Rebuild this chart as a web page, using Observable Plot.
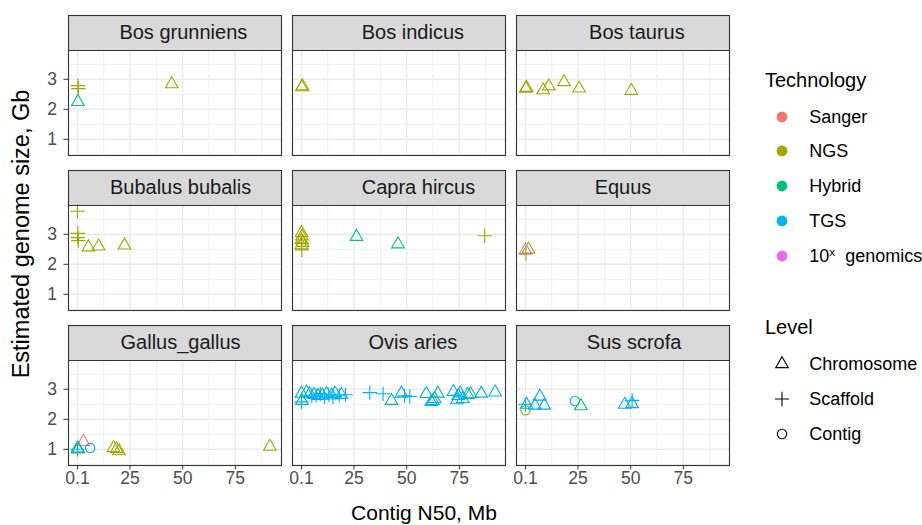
<!DOCTYPE html>
<html><head><meta charset="utf-8">
<script src="https://cdn.jsdelivr.net/npm/d3@7"></script>
<script src="https://cdn.jsdelivr.net/npm/@observablehq/plot@0.6"></script>
<style>
body{margin:0;background:#fff;font-family:"Liberation Sans",Arial,sans-serif;}
#wrap{position:relative;width:922px;height:525px;overflow:hidden;background:#fff;}
#wrap svg.plot{position:absolute;left:0;top:0;}
.abs{position:absolute;white-space:nowrap;line-height:1;color:#000;}
.ttl{font-size:20px;}
.lab{font-size:18px;}
sup{font-size:0.65em;vertical-align:0.5em;line-height:0;}
</style></head><body><div id="wrap"></div>
<script>
// ---------- data ----------
const species = ["\u00a0\u00a0\u00a0Bos grunniens", "\u00a0\u00a0\u00a0\u00a0\u00a0Bos indicus", "\u00a0\u00a0\u00a0\u00a0\u00a0Bos taurus",
  "\u00a0\u00a0Bubalus bubalis", "\u00a0\u00a0\u00a0\u00a0\u00a0\u00a0\u00a0Capra hircus", "Equus",
  "\u00a0\u00a0Gallus_gallus", "\u00a0\u00a0\u00a0\u00a0\u00a0Ovis aries", "\u00a0\u00a0\u00a0\u00a0Sus scrofa"];
const panelCounts = [4, 2, 7, 7, 10, 3, 10, 40, 11];
const technologies = ["Sanger", "NGS", "Hybrid", "TGS", "10x genomics"];
const techCodes = ["S", "N", "H", "T", "X"];
const techColors = ["#F8766D", "#A3A500", "#00BF7D", "#00B0F6", "#E76BF3"];
const levels = ["Chromosome", "Scaffold", "Contig"];
const levelCodes = ["C", "F", "O"];
const levelSymbols = ["triangle", "plus", "circle"];
const xTicks = [0.1, 25, 50, 75];
const yTicks = [1, 2, 3];
const xMinor = [12.55, 37.55, 62.55, 87.55];
const yMinor = [0.5, 1.5, 2.5, 3.5];

// Contig N50 (Mb), per point, panel by panel
const n50 = [
  0.3, 0.5, 0.3, 44.8,
  0.2, 0.6,
  0.2, 0.6, 8.5, 11.2, 18.4, 25.5, 50.3,
  0.1, 0.3, 0.2, 0.5, 5.3, 10.1, 22.4,
  0.1, 0.3, 0.2, 0.5, 0.1, 0.1, 0.3, 26.2, 45.9, 87.0,
  0.1, 1.5, 0.3,
  2.9, 6.1, 0.1, 0.5, 0.3, 0.1, 17.2, 18.7, 19.8, 91.4,
  0.1, 0.3, 0.1, 2.5, 4, 5, 6, 7, 8, 9, 10, 11, 12, 13, 14.5, 15, 16, 18, 19, 21,
  32.5, 38.8, 42.8, 47.5, 49, 51.5, 59.3, 61.7, 63.3, 62.5, 64.8,
  72.2, 73.8, 75.4, 76.6, 74.5, 79, 80.3, 85.4, 92,
  0.1, 0.1, 0.6, 4.6, 9.0, 6.9, 23.5, 26.4, 47.2, 50.7, 50.7
];
// Estimated genome size (Gb)
const genome = [
  2.79, 2.69, 2.25, 2.84,
  2.74, 2.77,
  2.69, 2.72, 2.64, 2.77, 2.91, 2.70, 2.62,
  3.77, 3.03, 2.89, 2.79, 2.57, 2.60, 2.63,
  3.05, 2.93, 2.81, 2.72, 2.64, 2.72, 2.48, 2.92, 2.67, 2.95,
  2.46, 2.50, 2.36,
  1.25, 1.04, 1.00, 1.00, 1.02, 1.03, 1.05, 1.01, 0.94, 1.09,
  2.86, 2.62, 2.58, 2.90, 2.85, 2.78, 2.82, 2.80, 2.78, 2.85, 2.80, 2.75, 2.84, 2.82, 2.80, 2.75, 2.86, 2.80, 2.82, 2.82,
  2.89, 2.85, 2.62, 2.86, 2.78, 2.76, 2.85, 2.58, 2.68, 2.62, 2.86,
  2.92, 2.64, 2.87, 2.68, 2.78, 2.82, 2.84, 2.86, 2.90,
  2.30, 2.50, 2.49, 2.46, 2.46, 2.76, 2.61, 2.44, 2.49, 2.51, 2.63
];
const tech = [
  "N","N","H","N",
  "N","N",
  "N","N","N","N","N","N","N",
  "N","N","N","N","N","N","N",
  "N","N","N","N","N","N","N","H","H","N",
  "X","N","N",
  "S","T","T","N","H","T","N","N","N","N",
  "T","H","T","H","T","T","T","T","T","T","T","T","T","T","T","T","T","T","T","T",
  "T","T","H","T","T","T","T","T","T","T","H",
  "T","T","T","T","T","T","H","T","T",
  "N","T","T","T","T","T","T","H","T","T","T"
];
const level = [
  "F","F","C","C",
  "C","C",
  "C","C","C","C","C","C","C",
  "F","F","F","F","C","C","C",
  "C","C","C","C","C","F","F","C","C","F",
  "C","C","F",
  "C","O","F","C","C","C","C","C","C","C",
  "C","C","F","C","C","F","C","F","C","F","C","F","C","F","C","F","C","F","C","F",
  "F","F","C","C","F","F","C","C","C","C","C",
  "C","C","C","C","C","C","C","C","C",
  "O","F","C","C","C","C","O","C","C","C","F"
];

// ---------- build ----------
const panelOf = [];
panelCounts.forEach((c, p) => { for (let k = 0; k < c; k++) panelOf.push(p); });
const points = n50.map((x, i) => ({
  x, y: genome[i],
  tech: technologies[techCodes.indexOf(tech[i])],
  level: levels[levelCodes.indexOf(level[i])],
  col: panelOf[i] % 3, row: Math.floor(panelOf[i] / 3)
}));
const strips = species.map((s, i) => ({label: s, col: i % 3, row: Math.floor(i / 3)}));

const X0 = -4.17, X1 = 96.9, Y0 = 0.46, Y1 = 3.96, YS = 5.1267;
const FONT = "Liberation Sans, Arial, Helvetica, sans-serif";
const R = 4.68;

const chart = Plot.plot({
  width: 922, height: 525,
  marginLeft: 66.7, marginRight: 191.8, marginTop: 14.3, marginBottom: 60.1,
  style: {fontFamily: FONT, background: "transparent", overflow: "visible"},
  fx: {domain: [0, 1, 2], paddingInner: 0.0511, paddingOuter: 0, axis: null},
  fy: {domain: [0, 1, 2], paddingInner: 0.0985, paddingOuter: 0, axis: null},
  x: {domain: [X0, X1]},
  y: {domain: [Y0, YS]},
  color: {domain: technologies, range: techColors},
  symbol: {domain: levels, range: levelSymbols},
  marks: [
    Plot.rect([0], {x1: X0, x2: X1, y1: Y0, y2: Y1, fill: "white"}),
    Plot.ruleX(xMinor, {y1: Y0, y2: Y1, stroke: "#EBEBEB", strokeWidth: 0.75}),
    Plot.ruleY(yMinor, {x1: X0, x2: X1, stroke: "#EBEBEB", strokeWidth: 0.75}),
    Plot.ruleX(xTicks, {y1: Y0, y2: Y1, stroke: "#EBEBEB", strokeWidth: 1.5}),
    Plot.ruleY(yTicks, {x1: X0, x2: X1, stroke: "#EBEBEB", strokeWidth: 1.5}),
    Plot.rect([0], {x1: X0, x2: X1, y1: Y1, y2: YS, fill: "#D9D9D9"}),
    Plot.text(strips, {fx: "col", fy: "row", x: (X0 + X1) / 2, y: (Y1 + YS) / 2, text: "label",
      fontSize: 20, fill: "#1A1A1A"}),
    Plot.dot(points, {fx: "col", fy: "row", x: "x", y: "y", stroke: "tech", symbol: "level",
      r: R, fill: "none", strokeWidth: 1.1}),
    Plot.ruleY([Y1], {x1: X0, x2: X1, stroke: "#333333", strokeWidth: 1.1}),
    Plot.frame({stroke: "#333333", strokeWidth: 1.1}),
    Plot.axisX(xTicks, {tickSize: 4.5, tickPadding: 2, fontSize: 17.5, stroke: "#333333", fill: "#4D4D4D",
      label: null, tickFormat: d => String(d)}),
    Plot.axisY(yTicks, {tickSize: 4.5, tickPadding: 7, fontSize: 17.5, stroke: "#333333", fill: "#4D4D4D",
      label: null, tickFormat: d => String(d)})
  ]
});
chart.classList.add("plot");
const wrap = document.getElementById("wrap");
wrap.appendChild(chart);

// axis titles
function addText(html, cls, left, top, extra) {
  const d = document.createElement("div");
  d.className = "abs " + cls;
  d.innerHTML = html;
  d.style.left = left + "px";
  d.style.top = top + "px";
  d.style.transform = extra || "translate(0,-50%)";
  wrap.appendChild(d);
  return d;
}
addText("Contig N50, Mb", "ttl", 424, 512, "translate(-50%,-50%)").style.fontSize = "21px";
addText("Estimated genome size, Gb", "ttl", 22, 234, "translate(-50%,-50%) rotate(-90deg)").style.fontSize = "23.5px";

// legend
const LX = 765, KX = 781.7, TX = 809.3;
addText("Technology", "ttl", LX, 80);
const techY = [116.7, 151, 186, 220.7, 255.7];
const techLabels = ["Sanger", "NGS", "Hybrid", "TGS", "10<sup>x</sup>\u00a0 genomics"];
technologies.forEach((t, i) => {
  const y = techY[i];
  const s = document.createElementNS("http://www.w3.org/2000/svg", "svg");
  s.setAttribute("width", 20); s.setAttribute("height", 20);
  s.style.position = "absolute"; s.style.left = (KX - 10) + "px"; s.style.top = (y - 10) + "px";
  s.innerHTML = `<circle cx="10" cy="10" r="5.4" fill="${techColors[i]}"/>`;
  wrap.appendChild(s);
  addText(techLabels[i], "lab", TX, y);
});
addText("Level", "ttl", LX, 326.7);
const levelY = [364.3, 399, 434];
const symFns = {triangle: d3.symbolTriangle, plus: d3.symbolPlus, circle: d3.symbolCircle};
levels.forEach((l, i) => {
  const y = levelY[i];
  const s = document.createElementNS("http://www.w3.org/2000/svg", "svg");
  s.setAttribute("width", 24); s.setAttribute("height", 24);
  s.style.position = "absolute"; s.style.left = (KX - 12) + "px"; s.style.top = (y - 12) + "px";
  const p = d3.symbol(symFns[levelSymbols[i]], Math.PI * R * R)();
  s.innerHTML = `<path transform="translate(12,12)" d="${p}" fill="none" stroke="#000" stroke-width="1.1"/>`;
  wrap.appendChild(s);
  addText(l, "lab", TX, y);
});
</script></body></html>
